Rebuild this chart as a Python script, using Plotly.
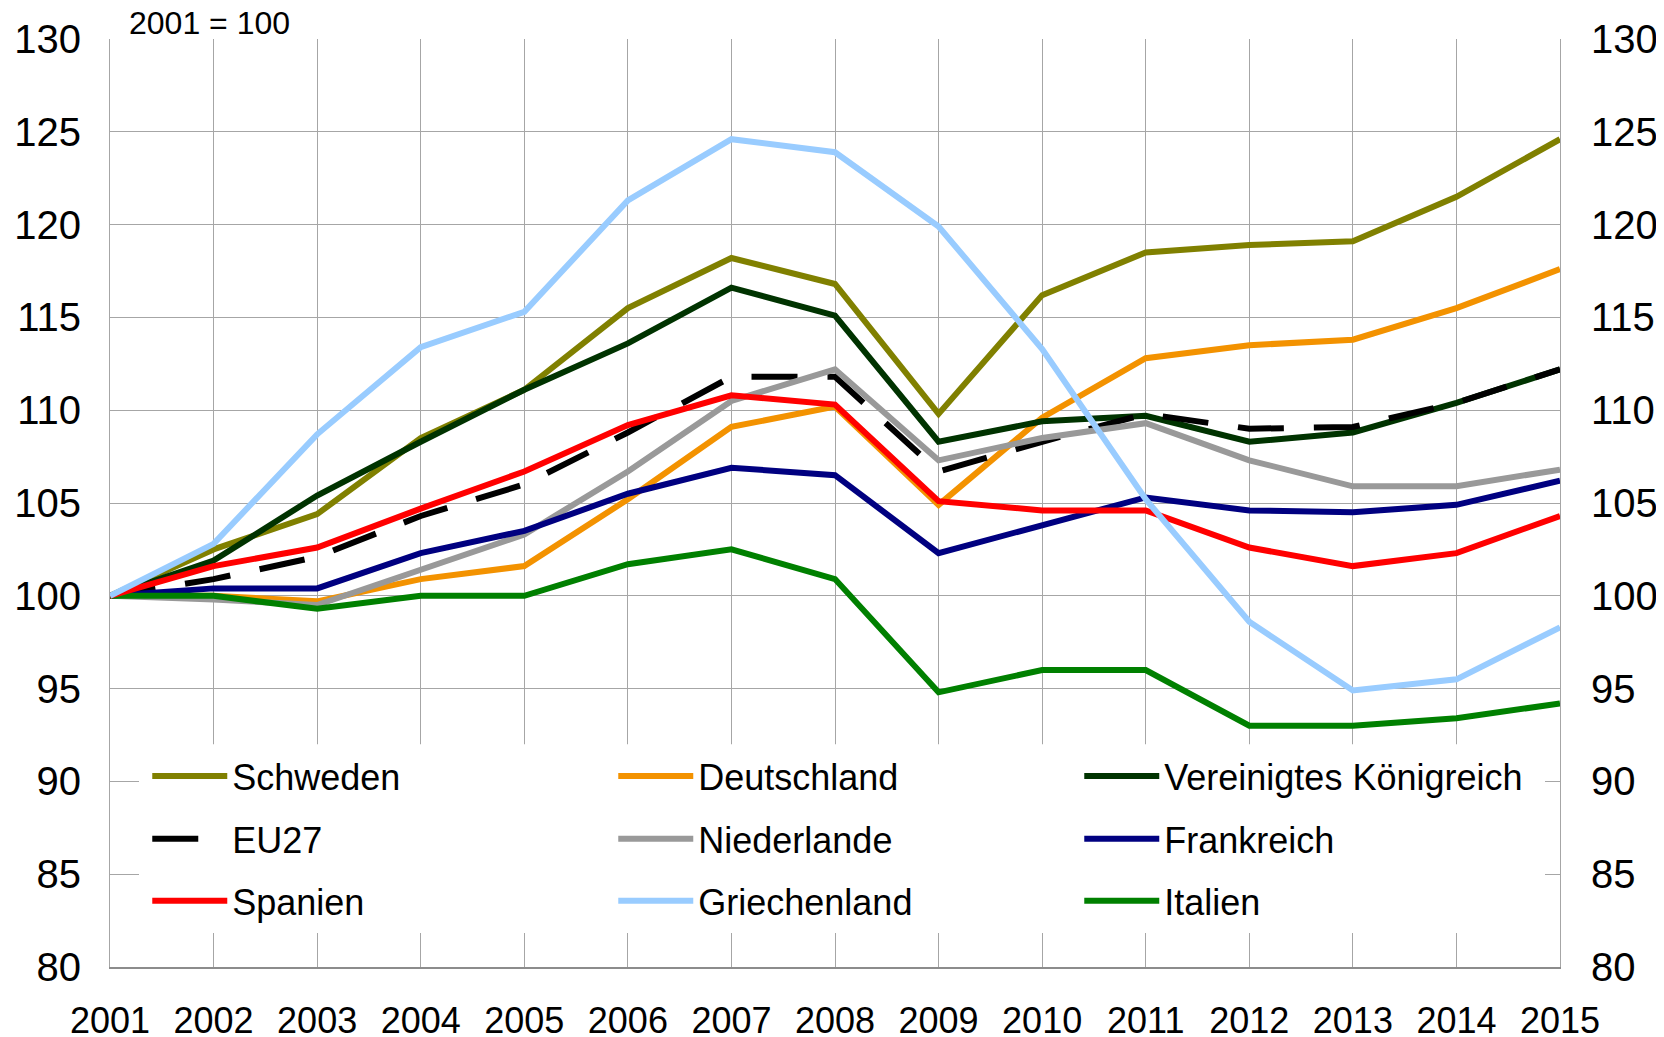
import plotly.graph_objects as go

years = list(range(2001, 2016))

schweden = [100, 102.5, 104.4, 108.5, 111.1, 115.5, 118.2, 116.8, 109.8, 116.2, 118.5, 118.9, 119.1, 121.5, 124.6]
deutschland = [100, 100.0, 99.7, 100.9, 101.6, 105.2, 109.1, 110.2, 104.9, 109.6, 112.8, 113.5, 113.8, 115.5, 117.6]
uk = [100, 101.9, 105.4, 108.3, 111.1, 113.6, 116.6, 115.1, 108.3, 109.4, 109.7, 108.3, 108.8, 110.4, 112.2]
eu27 = [100, 100.9, 102.1, 104.3, 106.0, 108.8, 111.8, 111.8, 106.7, 108.3, 109.8, 109.0, 109.1, 110.4, 112.2]
niederlande = [100, 99.8, 99.5, 101.4, 103.3, 106.7, 110.5, 112.2, 107.3, 108.5, 109.3, 107.3, 105.9, 105.9, 106.8]
frankreich = [100, 100.4, 100.4, 102.3, 103.5, 105.5, 106.9, 106.5, 102.3, 103.8, 105.3, 104.6, 104.5, 104.9, 106.2]
spanien = [100, 101.6, 102.6, 104.7, 106.7, 109.2, 110.8, 110.3, 105.1, 104.6, 104.6, 102.6, 101.6, 102.3, 104.3]
griechenland = [100, 102.8, 108.7, 113.4, 115.3, 121.3, 124.6, 123.9, 119.9, 113.3, 105.2, 98.6, 94.9, 95.5, 98.3]
italien = [100, 100.0, 99.3, 100.0, 100.0, 101.7, 102.5, 100.9, 94.8, 96.0, 96.0, 93.0, 93.0, 93.4, 94.2]

# (name, values, colour, dash, legend row, legend rank) in drawing order (bottom -> top)
series = [
    ("Schweden", schweden, "#808000", "solid", "legend", 1),
    ("Deutschland", deutschland, "#F39200", "solid", "legend", 2),
    ("Vereinigtes Königreich", uk, "#003300", "solid", "legend", 3),
    ("EU27", eu27, "#000000", "46px,30px", "legend2", 1),
    ("Niederlande", niederlande, "#999999", "solid", "legend2", 2),
    ("Frankreich", frankreich, "#000080", "solid", "legend2", 3),
    ("Italien", italien, "#008000", "solid", "legend3", 3),
    ("Spanien", spanien, "#FF0000", "solid", "legend3", 1),
    ("Griechenland", griechenland, "#99CCFF", "solid", "legend3", 2),
]

y_ticks = list(range(80, 131, 5))

FONT = "Liberation Sans, Arial, sans-serif"

fig = go.Figure()
for name, vals, col, dash, leg, rank in series:
    fig.add_trace(go.Scatter(
        x=years, y=vals, name=name, mode="lines",
        line=dict(color=col, width=6, dash=dash),
        legend=leg, legendrank=rank,
    ))

# transparent companion trace so that the right-hand axis is rendered
fig.add_trace(go.Scatter(
    x=years, y=eu27, yaxis="y2", mode="lines", showlegend=False,
    hoverinfo="skip", opacity=0, line=dict(width=0),
))

grid = "#A6A6A6"


def row_legend(yc):
    return dict(
        orientation="h", x=0.0257, y=yc, xanchor="left", yanchor="middle",
        bgcolor="white", borderwidth=0,
        font=dict(size=36, family=FONT, color="black"),
        entrywidth=376, itemwidth=75, traceorder="normal",
    )


fig.update_layout(
    width=1656, height=1029,
    margin=dict(l=102, r=104, t=31, b=70),
    paper_bgcolor="white", plot_bgcolor="white",
    font=dict(family=FONT, color="black", size=36),
    showlegend=True,
    legend=row_legend(0.2058),
    legend2=row_legend(0.1381),
    legend3=row_legend(0.0714),
    xaxis=dict(
        range=[2001, 2015], tickmode="array", tickvals=years,
        ticktext=[str(y) for y in years],
        showgrid=True, gridcolor=grid, gridwidth=1,
        showline=True, linecolor="#8C8C8C", linewidth=2,
        ticks="", ticklabelstandoff=21, automargin=False,
        tickfont=dict(size=36), zeroline=False,
    ),
    yaxis=dict(
        range=[80, 130], tickmode="array", tickvals=y_ticks,
        showgrid=True, gridcolor=grid, gridwidth=1,
        showline=True, linecolor=grid, linewidth=1,
        ticks="", ticklabelstandoff=20, automargin=False,
        tickfont=dict(size=40), zeroline=False,
    ),
    yaxis2=dict(
        range=[80, 130], tickmode="array", tickvals=y_ticks,
        overlaying="y", side="right", showgrid=False,
        showline=True, linecolor=grid, linewidth=1,
        ticks="", ticklabelstandoff=22, automargin=False,
        tickfont=dict(size=40), zeroline=False,
    ),
    shapes=[
        dict(type="rect", xref="paper", yref="paper",
             x0=0.020, x1=0.988, y0=0.0366, y1=0.240,
             fillcolor="white", line=dict(width=0), layer="above"),
    ],
    annotations=[
        dict(text="2001 = 100", xref="paper", yref="paper", x=0, y=1.017,
             xanchor="left", yanchor="middle", xshift=17, showarrow=False,
             font=dict(size=32, family=FONT)),
        dict(text="<b>2001-2015</b>", xref="paper", yref="paper", x=0.4983, y=1,
             xanchor="center", yanchor="bottom", yshift=13, showarrow=False,
             font=dict(size=87, family=FONT, color="#595959")),
    ],
)

fig.write_html("out.html")
